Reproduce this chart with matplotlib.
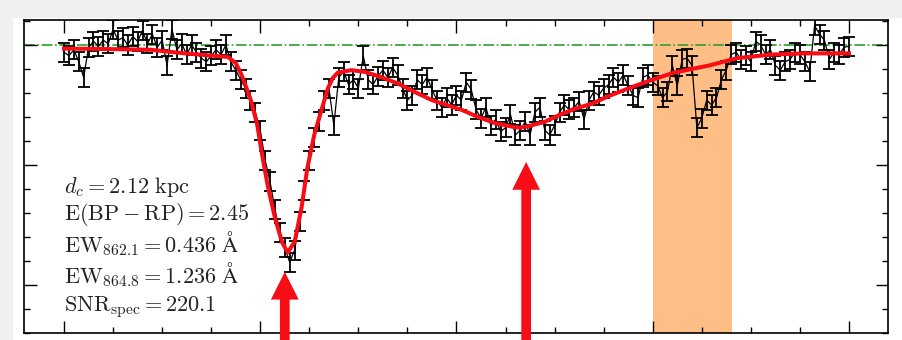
# Spectrum around the 862.1 / 864.8 nm DIBs ---------------------------------------
import numpy as np
import matplotlib.pyplot as plt
from matplotlib.patches import Rectangle
from matplotlib.ticker import MultipleLocator


# Data -----------------------------------------------------------------------------
wave = [860.00, 860.05, 860.10, 860.15, 860.20, 860.25, 860.30, 860.35, 860.40, 860.45,
        860.50, 860.55, 860.60, 860.65, 860.70, 860.75, 860.80, 860.85, 860.90, 860.95,
        861.00, 861.05, 861.10, 861.15, 861.20, 861.25, 861.30, 861.35, 861.40, 861.45,
        861.50, 861.55, 861.60, 861.65, 861.70, 861.75, 861.80, 861.85, 861.90, 861.95,
        862.00, 862.05, 862.10, 862.15, 862.20, 862.25, 862.30, 862.35, 862.40, 862.45,
        862.50, 862.55, 862.60, 862.65, 862.70, 862.75, 862.80, 862.85, 862.90, 862.95,
        863.00, 863.05, 863.10, 863.15, 863.20, 863.25, 863.30, 863.35, 863.40, 863.45,
        863.50, 863.55, 863.60, 863.65, 863.70, 863.75, 863.80, 863.85, 863.90, 863.95,
        864.00, 864.05, 864.10, 864.15, 864.20, 864.25, 864.30, 864.35, 864.40, 864.45,
        864.50, 864.55, 864.60, 864.65, 864.70, 864.75, 864.80, 864.85, 864.90, 864.95,
        865.00, 865.05, 865.10, 865.15, 865.20, 865.25, 865.30, 865.35, 865.40, 865.45,
        865.50, 865.55, 865.60, 865.65, 865.70, 865.75, 865.80, 865.85, 865.90, 865.95,
        866.00, 866.05, 866.10, 866.15, 866.20, 866.25, 866.30, 866.35, 866.40, 866.45,
        866.50, 866.55, 866.60, 866.65, 866.70, 866.75, 866.80, 866.85, 866.90, 866.95,
        867.00, 867.05, 867.10, 867.15, 867.20, 867.25, 867.30, 867.35, 867.40, 867.45,
        867.50, 867.55, 867.60, 867.65, 867.70, 867.75, 867.80, 867.85, 867.90, 867.95,
        868.00]

flux = [0.994, 0.991, 0.996, 0.986, 0.973, 0.998, 1.003, 0.999, 1.004, 1.001,
        1.013, 1.004, 1.006, 1.000, 1.007, 1.003, 1.012, 1.001, 1.009, 0.998,
        1.004, 0.983, 1.013, 0.996, 1.001, 0.992, 1.000, 0.994, 0.989, 0.986,
        0.991, 0.996, 0.992, 1.000, 0.986, 0.979, 0.971, 0.964, 0.954, 0.944,
        0.929, 0.904, 0.886, 0.863, 0.844, 0.831, 0.819, 0.829, 0.853, 0.879,
        0.904, 0.923, 0.936, 0.954, 0.964, 0.933, 0.973, 0.978, 0.967, 0.971,
        0.964, 0.991, 0.971, 0.967, 0.974, 0.979, 0.973, 0.981, 0.975, 0.964,
        0.954, 0.958, 0.971, 0.967, 0.973, 0.963, 0.954, 0.948, 0.956, 0.950,
        0.958, 0.954, 0.969, 0.963, 0.946, 0.939, 0.948, 0.933, 0.938, 0.928,
        0.931, 0.942, 0.925, 0.929, 0.936, 0.925, 0.944, 0.948, 0.929, 0.925,
        0.933, 0.944, 0.950, 0.946, 0.948, 0.953, 0.938, 0.954, 0.961, 0.958,
        0.964, 0.967, 0.973, 0.969, 0.975, 0.966, 0.958, 0.956, 0.973, 0.975,
        0.969, 0.966, 0.956, 0.961, 0.983, 0.966, 0.988, 0.989, 0.983, 0.931,
        0.939, 0.954, 0.950, 0.956, 0.971, 0.979, 0.992, 0.994, 0.988, 0.991,
        0.986, 1.003, 1.000, 0.992, 0.996, 0.983, 0.979, 0.986, 0.988, 0.994,
        0.992, 0.986, 0.978, 1.016, 1.009, 1.004, 0.988, 0.994, 0.992, 0.998,
        0.999]
flux_err = 0.008

# red model curve
fit_wave = [860.00, 860.37, 860.88, 861.23, 861.67, 861.75, 861.81, 861.86, 861.91,
            861.97, 862.02, 862.08, 862.15, 862.22, 862.28, 862.35, 862.42, 862.48,
            862.55, 862.61, 862.69, 862.74, 862.79, 862.93, 863.07, 863.24, 863.40,
            863.57, 863.75, 863.90, 864.05, 864.22, 864.39, 864.56, 864.64, 864.72,
            864.90, 865.07, 865.23, 865.38, 865.54, 865.71, 865.89, 866.05, 866.22,
            866.40, 866.58, 866.86, 867.21, 867.55, 868.00]
fit_flux = [0.997, 0.9967, 0.996, 0.993, 0.990, 0.985, 0.975, 0.964, 0.9525,
            0.933, 0.908, 0.881, 0.856, 0.836, 0.827, 0.836, 0.864, 0.8975,
            0.925, 0.942, 0.964, 0.9725, 0.977, 0.979, 0.9775, 0.973, 0.968,
            0.961, 0.954, 0.950, 0.946, 0.940, 0.935, 0.932, 0.931, 0.932,
            0.936, 0.9425, 0.9475, 0.951, 0.957, 0.9625, 0.968, 0.9725, 0.977,
            0.980, 0.983, 0.989, 0.992, 0.993, 0.993]

continuum = 1.0
mask_lo, mask_hi = 866.0, 866.81      # masked stellar line
dib_wave = [862.25, 864.71]           # arrows
dib_tip = [0.811, 0.9025]

labels = [r"$d_c = 2.12\ \mathrm{kpc}$",
          r"$\mathrm{E(BP-RP)} = 2.45$",
          r"$\mathrm{EW}_{862.1} = 0.436\ \mathrm{\AA}$",
          r"$\mathrm{EW}_{864.8} = 1.236\ \mathrm{\AA}$",
          r"$\mathrm{SNR}_{\mathrm{spec}} = 220.1$"]
label_base = [0.8767, 0.8542, 0.8275, 0.8017, 0.7783]


# Plot ---------------------------------------------------------------------------
plt.rcParams['mathtext.fontset'] = 'cm'
red = '#f80c16'

fig = plt.figure(figsize=(9.03, 3.40), dpi=100)
fig.patches.append(Rectangle((0, 0.95), 1, 0.05, transform=fig.transFigure,
                             color='#f0f0f0', zorder=-1))
fig.patches.append(Rectangle((0, 0), 12/903, 1, transform=fig.transFigure,
                             color='#f0f0f0', zorder=-1))
ax = fig.add_axes([24/903, 7/340, 864/903, 313/340])

ax.axvspan(mask_lo, mask_hi, color='C1', alpha=0.5, lw=0, zorder=0)
ax.axhline(continuum, color='#2ca02c', ls='-.', lw=1.2, zorder=1)
ax.errorbar(wave, flux, yerr=flux_err, fmt='-', color='k', lw=0.9,
            elinewidth=1.3, capsize=4.2, capthick=1.3, zorder=2)
ax.plot(fit_wave, fit_flux, color=red, lw=2.9, zorder=3)

for xw, yt in zip(dib_wave, dib_tip):
    ax.annotate('', xy=(xw, yt), xytext=(xw, 0.70), annotation_clip=False,
                arrowprops=dict(facecolor=red, edgecolor='none', width=7,
                                headwidth=20, headlength=20, shrink=0,
                                clip_on=False), zorder=4)

for txt, yb in zip(labels, label_base):
    ax.text(860.0, yb, txt, fontsize=16, color='#222222', va='baseline', ha='left')

ax.set_xlim(859.592, 868.398)
ax.set_ylim(0.76, 1.0208)
ax.xaxis.set_major_locator(MultipleLocator(2))
ax.xaxis.set_minor_locator(MultipleLocator(0.5))
ax.yaxis.set_major_locator(MultipleLocator(0.1))
ax.yaxis.set_minor_locator(MultipleLocator(0.02))
ax.tick_params(which='both', direction='in', top=True, right=True,
               labelbottom=False, labelleft=False, width=1.0)
ax.tick_params(which='major', length=9)
ax.tick_params(which='minor', length=4.5)
for s in ax.spines.values():
    s.set_linewidth(1.2)

fig.savefig('out.png', dpi=100)
